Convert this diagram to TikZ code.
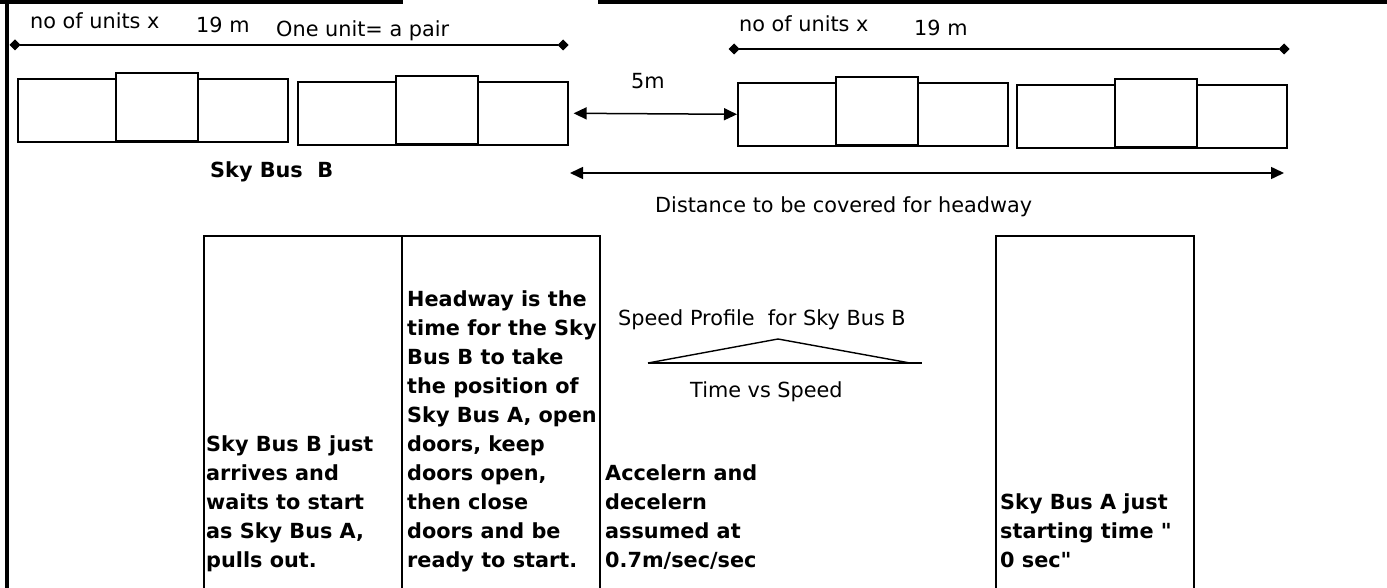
\documentclass[tikz,border=0pt]{standalone}
\usepackage{fontspec}
\setmainfont{DejaVu Sans}[Ligatures=TeXOff]
\usetikzlibrary{arrows.meta}

\begin{document}
\begin{tikzpicture}[x=1pt, y=-1pt,
  font=\fontsize{20.8}{29}\selectfont,
  car/.style={draw, line width=1.6pt, minimum width=270pt, minimum height=63pt, inner sep=0pt, anchor=north west},
  carmid/.style={draw, fill=white, line width=1.6pt, minimum width=82pt, minimum height=68pt, inner sep=0pt, anchor=north west},
  lbl/.style={inner sep=0pt, anchor=base west},
  blbl/.style={lbl, font=\fontsize{20.8}{29}\selectfont\bfseries, align=left},
  dimline/.style={line width=1.2pt, {Diamond[length=11pt,width=11pt]}-{Diamond[length=11pt,width=11pt]}},
  gaparrow/.style={line width=1.5pt, {Triangle[length=13pt,width=12pt]}-{Triangle[length=13pt,width=12pt]}},
  col/.style={line width=2pt}]
\useasboundingbox (0,0) rectangle (1387,588);
% frame edges
\fill (0,0) rectangle (403,4);
\fill (598,0) rectangle (1387,4);
\fill (5,0) rectangle (8.5,588);

% length of the trains
\coordinate (dl1) at (9.5,45);
\coordinate (dl2) at (568.5,45);
\draw[dimline] (dl1) -- (dl2);
\coordinate (dr1) at (728.5,49);
\coordinate (dr2) at (1289.5,49);
\draw[dimline] (dr1) -- (dr2);
\node[lbl] (unitsl) at (30,29) {no of units x};
\node[lbl] (lenl) at (196,33) {19 m};
\node[lbl] (pair) at (276,37) {One unit= a pair};
\node[lbl] (unitsr) at (739,32) {no of units x};
\node[lbl] (lenr) at (914,36) {19 m};

% Sky Bus B
\node[car] (car1) at (17,78) {};
\node[carmid] (mid1) at (115,72) {};
\node[car] (car2) at (297,81) {};
\node[carmid] (mid2) at (395,75) {};
% Sky Bus A
\node[car] (car3) at (737,82) {};
\node[carmid] (mid3) at (835,76) {};
\node[car] (car4) at (1016,84) {};
\node[carmid] (mid4) at (1114,78) {};

\node[lbl] (gap) at (631,89) {5m};
\draw[gaparrow] ([xshift=5pt]car2.east) -- (car3.west);
\node[lbl, font=\fontsize{20.8}{29}\selectfont\bfseries] (busb) at (210,178) {Sky Bus\ \ B};

\coordinate (hw1) at (570,173);
\coordinate (hw2) at (1284,173);
\draw[gaparrow] (hw1) -- (hw2);
\node[lbl] (hwtxt) at (655,213) {Distance to be covered for headway};

% columns
\draw[col] (204,590) -- (204,236) -- (600,236) -- (600,590);
\draw[col] (402,236) -- (402,590);
\draw[col] (996,590) -- (996,236) -- (1194,236) -- (1194,590);

% base = last line
\node[blbl] (waitb) at (206,567) {Sky Bus B just\\arrives and\\waits to start\\as Sky Bus A,\\pulls out.};
\node[blbl] (hwdef) at (407,567) {Headway is the\\time for the Sky\\Bus B to take\\the position of\\Sky Bus A, open\\doors, keep\\doors open,\\then close\\doors and be\\ready to start.};
\node[blbl] (accel) at (605,567) {Accelern and\\decelern\\assumed at\\0.7m/sec/sec};
\node[blbl] (starta) at (1000,567) {Sky Bus A just\\starting time "\\0 sec"};

% speed profile
\node[lbl] (sptitle) at (618,325) {Speed Profile\ \ for Sky Bus B};
\coordinate (sp1) at (648,363);
\coordinate (sp2) at (778,339);
\coordinate (sp3) at (910,363);
\coordinate (sp4) at (922,363);
\draw[line width=1.4pt] (sp1) -- (sp2) -- (sp3);
\draw[line width=1.4pt] (sp1) -- (sp4);
\node[lbl] (spaxis) at (690,397) {Time vs Speed};
\end{tikzpicture}
\end{document}
